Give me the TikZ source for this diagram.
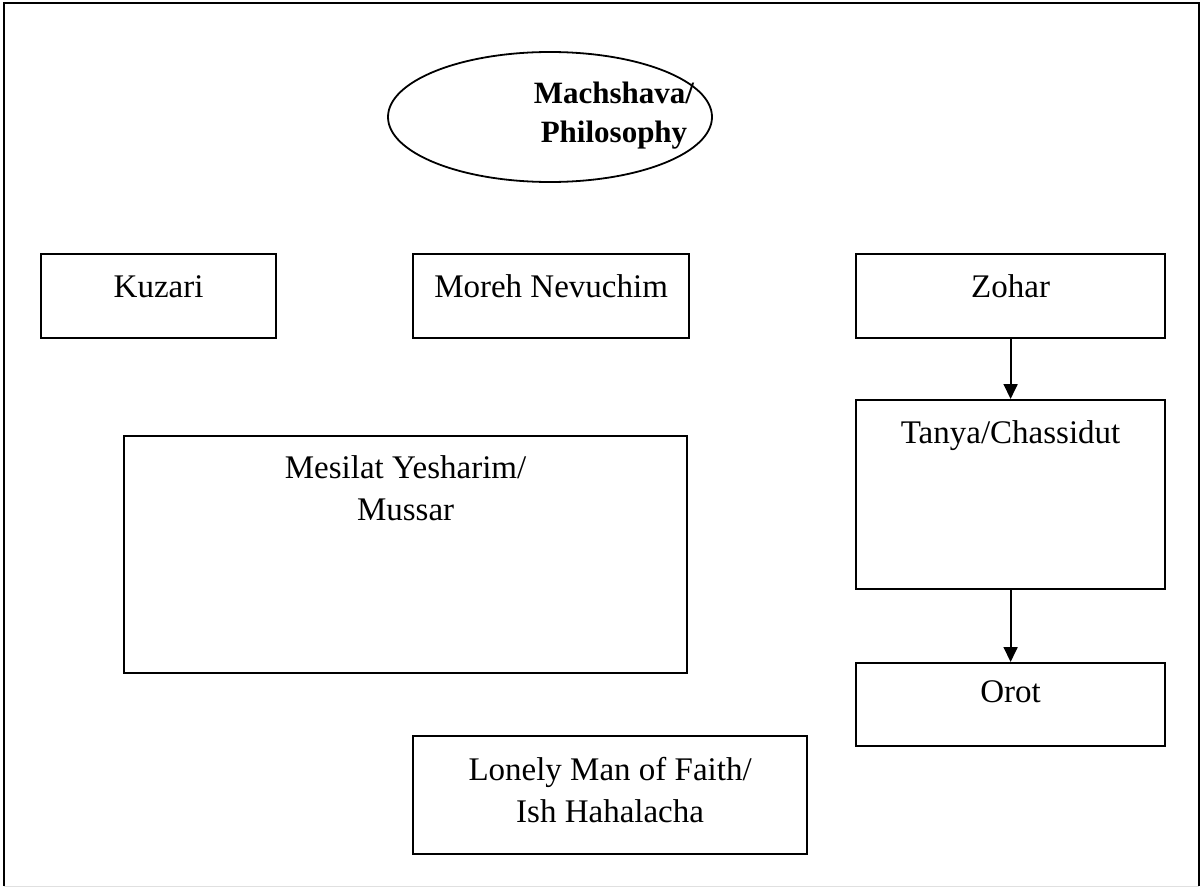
\documentclass[tikz,border=0pt]{standalone}
\usepackage{fontspec}
\setmainfont{Liberation Serif}
\usetikzlibrary{shapes, positioning, calc, arrows.meta}
\tikzset{book/.style={draw=black, rectangle, line width=2.2pt, inner sep=0pt, anchor=north west}}
\tikzset{book text/.style={anchor=north, inner sep=0pt, align=center, execute at begin node={\rule{0pt}{24pt}}, yshift=-20pt, font=\fontsize{33}{42}\selectfont}}
\tikzset{topic/.style={draw=black, ellipse, line width=1.8pt, inner sep=0pt}}
\tikzset{topic text/.style={anchor=north, inner sep=0pt, align=center, execute at begin node={\rule{0pt}{24pt}}, yshift=-31pt, xshift=64pt, font=\fontsize{31}{39}\selectfont\bfseries}}
\tikzset{flow/.style={-{Triangle[length=15pt,width=14pt]}, line width=1.8pt}}

\begin{document}
\begin{tikzpicture}[x=1pt, y=-1pt]
\useasboundingbox (0,0) rectangle (1202,888);
\draw[line width=2.5pt] (4,886) -- (4,3) -- (1199,3) -- (1199,886);
\draw[black!12, line width=1pt] (4,886) -- (1199,886);
\node[topic, minimum width=324pt, minimum height=130pt, label={[topic text]north:Machshava/\\Philosophy}] (machshava) at (550,117) {};
\node[book, minimum width=235pt, minimum height=84pt, label={[book text]north:Kuzari}] (kuzari) at (40,253) {};
\node[book, minimum width=276pt, minimum height=84pt, label={[book text]north:Moreh Nevuchim}] (moreh) at (412,253) {};
\node[book, minimum width=309pt, minimum height=84pt, label={[book text]north:Zohar}] (zohar) at (855,253) {};
\node[book, minimum width=309pt, minimum height=189pt, label={[book text]north:Tanya/Chassidut}] (tanya) at (855,399) {};
\node[book, minimum width=563pt, minimum height=237pt, label={[book text]north:Mesilat Yesharim/\\Mussar}] (mesilat) at (123,435) {};
\node[book, minimum width=309pt, minimum height=83pt, label={[book text, yshift=4pt]north:Orot}] (orot) at (855,662) {};
\node[book, minimum width=394pt, minimum height=118pt, label={[book text, yshift=-2pt]north:Lonely Man of Faith/\\Ish Hahalacha}] (lonely) at (412,735) {};
\draw[flow] (zohar) -- (tanya);
\draw[flow] (tanya) -- (orot);
\end{tikzpicture}
\end{document}
